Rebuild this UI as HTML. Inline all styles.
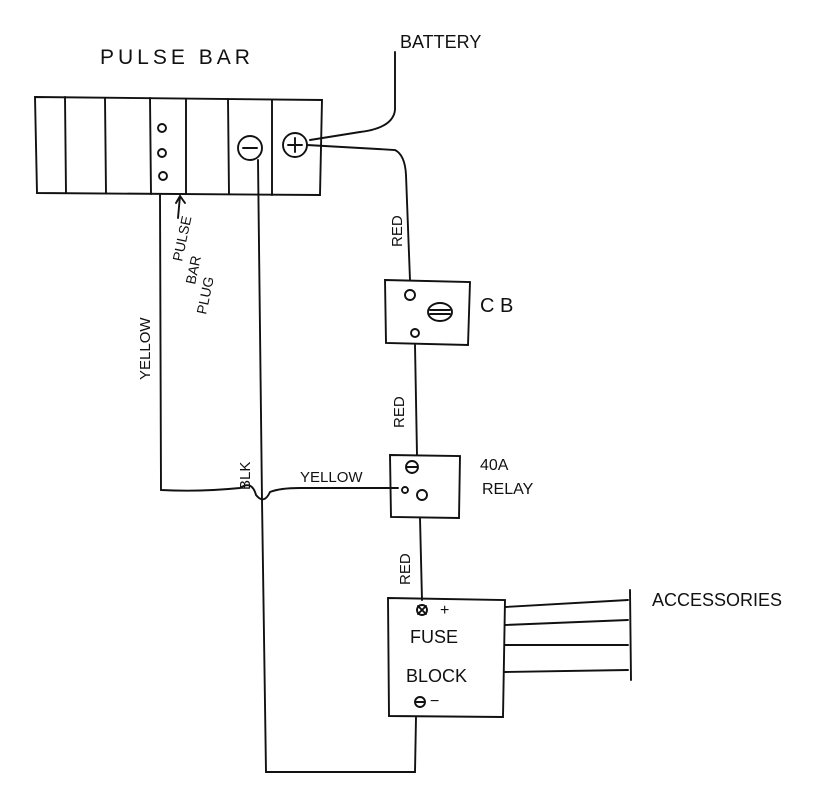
<!DOCTYPE html>
<html><head><meta charset="utf-8"><style>
html,body{margin:0;padding:0;background:#fff;}
svg{display:block}
text{font-family:"Liberation Sans",sans-serif;fill:#111;}
</style></head><body>
<svg width="820" height="794" viewBox="0 0 820 794" xmlns="http://www.w3.org/2000/svg">
<g fill="none" stroke="#111" stroke-width="1.9" stroke-linecap="round">
<path d="M35 97 L322 100 L320 195 L37 193 Z"/>
<path d="M65 97 L66 193 M105 98 L106 193 M150 98 L151 194 M186 99 L186 194 M228 99 L229 194 M272 100 L272 195"/>
<circle cx="162" cy="128" r="4"/><circle cx="162" cy="153" r="4"/><circle cx="163" cy="176" r="4"/>
<circle cx="250" cy="148" r="12"/><path d="M243 148 H257"/>
<circle cx="295" cy="145" r="12"/><path d="M288 145 H302 M295 138 V152"/>
<path d="M178 218 L180 196 M176 203 L180 196 L185 203"/>
<path d="M395 52 L395 110 Q393 128 360 132 L310 140"/>
<path d="M307 145 L395 150 Q405 155 406 175 L410 280"/>
<path d="M385 280 L470 282 L468 345 L386 343 Z"/>
<circle cx="410" cy="295" r="5"/><circle cx="415" cy="333" r="4"/>
<ellipse cx="440" cy="312" rx="12" ry="9"/><path d="M430 310 H450 M430 314 H450"/>
<path d="M415 345 L417 455"/>
<path d="M390 455 L460 456 L459 518 L391 517 Z"/>
<circle cx="412" cy="467" r="6"/><path d="M407 467 H417"/>
<circle cx="405" cy="490" r="3"/><circle cx="422" cy="495" r="5"/>
<path d="M420 518 L422 600"/>
<path d="M388 598 L505 600 L503 717 L389 716 Z"/>
<circle cx="422" cy="610" r="5"/><path d="M418 606 L426 614 M426 606 L418 614"/>
<circle cx="420" cy="702" r="5"/><path d="M416 702 H424"/>
<path d="M505 607 L628 600 M505 625 L628 620 M505 645 L628 645 M505 672 L628 670 M630 590 L631 680"/>
<path d="M160 195 L161 490 Q200 492 240 488 Q252 480 256 495 Q264 505 270 492 Q280 488 300 488 L398 488"/>
<path d="M258 160 L262 500 L266 772 L415 772 L416 717"/>
</g>
<g font-size="19">
<text x="100" y="64" font-size="21" letter-spacing="4">PULSE  BAR</text>
<text x="400" y="48" font-size="18">BATTERY</text>
<text x="480" y="312" font-size="20">C B</text>
<text x="480" y="470" font-size="16">40A</text>
<text x="482" y="494" font-size="16">RELAY</text>
<text x="410" y="643" font-size="18">FUSE</text>
<text x="406" y="682" font-size="18">BLOCK</text>
<text x="440" y="615" font-size="16">+</text>
<text x="430" y="706" font-size="16">−</text>
<text x="652" y="606" font-size="18">ACCESSORIES</text>
<text x="300" y="482" font-size="15">YELLOW</text>
<text transform="translate(150 380) rotate(-90)" font-size="15">YELLOW</text>
<text transform="translate(402 247) rotate(-90)" font-size="15">RED</text>
<text transform="translate(404 428) rotate(-90)" font-size="15">RED</text>
<text transform="translate(410 585) rotate(-90)" font-size="15">RED</text>
<text transform="translate(250 490) rotate(-90)" font-size="15">BLK</text>
<text transform="translate(182 262) rotate(-78)" font-size="14">PULSE</text>
<text transform="translate(195 285) rotate(-78)" font-size="14">BAR</text>
<text transform="translate(206 315) rotate(-78)" font-size="14">PLUG</text>
</g>
</svg>
</body></html>
